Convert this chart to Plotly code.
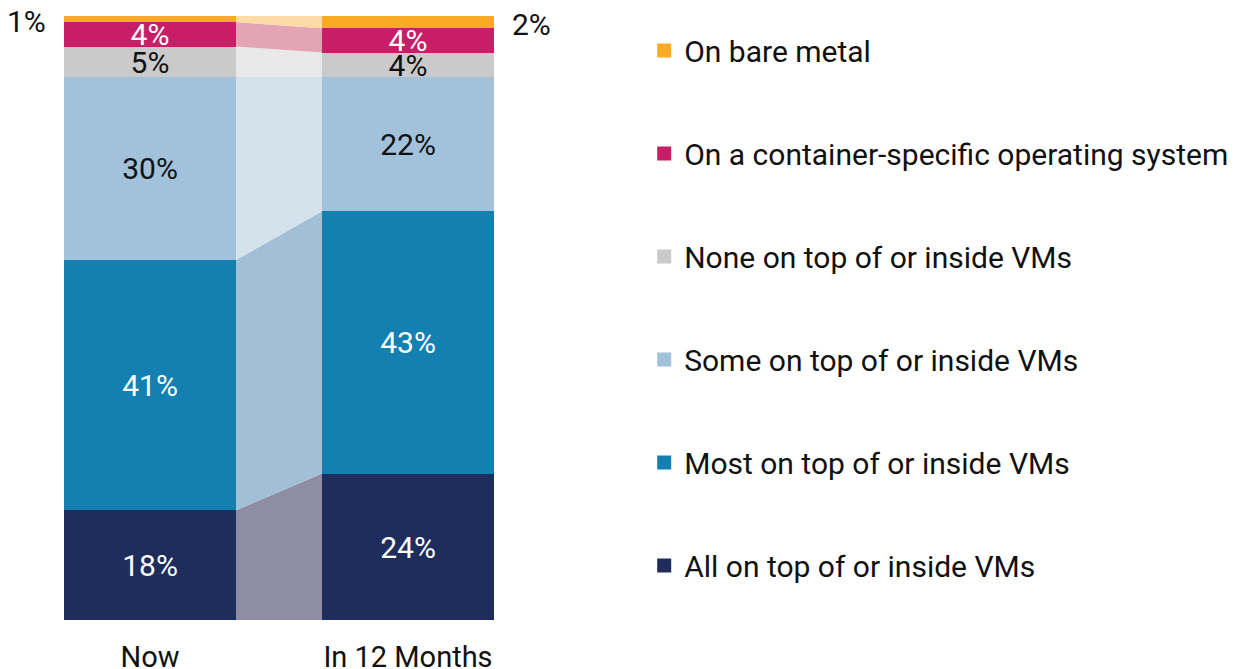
import plotly.graph_objects as go

categories = ["Now", "In 12 Months"]
series_names = [
    "All on top of or inside VMs",
    "Most on top of or inside VMs",
    "Some on top of or inside VMs",
    "None on top of or inside VMs",
    "On a container-specific operating system",
    "On bare metal",
]
now_values = [18, 41, 30, 5, 4, 1]
later_values = [24, 43, 22, 4, 4, 2]

bar_colors = ["#1E2D5C", "#1380B1", "#A2C2DC", "#CACACA", "#C81E67", "#FBAA24"]
band_colors = ["#8E8DA4", "#A3BFD7", "#D4E2EC", "#E8E9E8", "#E3A4B3", "#FDDBA7"]
text_colors = ["white", "white", "#111111", "#111111", "white", "#111111"]

FONT = "Roboto"
FS = 30
BAR_W = 0.6667
x_pos = [0, 1]

fig = go.Figure()

# connecting bands
cum_now = [0]
cum_later = [0]
for a, b in zip(now_values, later_values):
    cum_now.append(cum_now[-1] + a)
    cum_later.append(cum_later[-1] + b)

xl = x_pos[0] + BAR_W / 2
xr = x_pos[1] - BAR_W / 2
for i in range(len(series_names)):
    fig.add_trace(go.Scatter(
        x=[xl, xr, xr, xl, xl],
        y=[cum_now[i], cum_later[i], cum_later[i + 1], cum_now[i + 1], cum_now[i]],
        fill="toself", fillcolor=band_colors[i], mode="lines",
        line=dict(width=0), hoverinfo="skip", showlegend=False,
    ))

# stacked bars
for i, name in enumerate(series_names):
    vals = [now_values[i], later_values[i]]
    small = i == len(series_names) - 1
    fig.add_trace(go.Bar(
        x=x_pos, y=vals, width=BAR_W, name=name,
        marker=dict(color=bar_colors[i], line=dict(width=0)),
        text=[] if small else [f"{v}%" for v in vals],
        textposition="inside", insidetextanchor="middle",
        constraintext="none",
        textfont=dict(family=FONT, size=FS, color=text_colors[i]),
        showlegend=False,
    ))

# legend entries (top to bottom)
for i in reversed(range(len(series_names))):
    fig.add_trace(go.Scatter(
        x=[None], y=[None], mode="markers", name=series_names[i],
        marker=dict(symbol="square", size=14, color=bar_colors[i]),
        legendgroup=series_names[i], showlegend=True,
    ))

# outside labels for smallest segment
fig.add_annotation(x=x_pos[0] - BAR_W / 2, y=cum_now[-1] - now_values[-1] / 2,
                   text=f"{now_values[-1]}%", showarrow=False, xanchor="right",
                   yanchor="middle", xshift=-16, yshift=-2,
                   font=dict(family=FONT, size=FS, color="#111111"))
fig.add_annotation(x=x_pos[1] + BAR_W / 2, y=cum_later[-1] - later_values[-1] / 2,
                   text=f"{later_values[-1]}%", showarrow=False, xanchor="left",
                   yanchor="middle", xshift=16, yshift=-2,
                   font=dict(family=FONT, size=FS, color="#111111"))

fig.update_layout(
    width=1227, height=661,
    margin=dict(l=13, r=698, t=8, b=49, autoexpand=False),
    barmode="stack", bargap=0,
    plot_bgcolor="white", paper_bgcolor="white",
    font=dict(family=FONT, size=FS, color="#111111"),
    xaxis=dict(range=[-0.5, 1.5], tickmode="array", tickvals=x_pos,
               ticktext=categories, showgrid=False, zeroline=False,
               showline=False, ticks="", ticklabelstandoff=17, automargin=False,
               tickfont=dict(family=FONT, size=29, color="#111111")),
    yaxis=dict(range=[0, cum_now[-1]], visible=False, showgrid=False,
               automargin=False),
    legend=dict(xref="container", yref="container", x=0.5185, y=0.975,
                xanchor="left", yanchor="top", traceorder="grouped",
                tracegroupgap=61, maxheight=661,
                font=dict(family=FONT, size=FS, color="#111111"),
                itemclick=False, bgcolor="rgba(0,0,0,0)"),
    showlegend=True,
)

fig.write_html("out.html")
